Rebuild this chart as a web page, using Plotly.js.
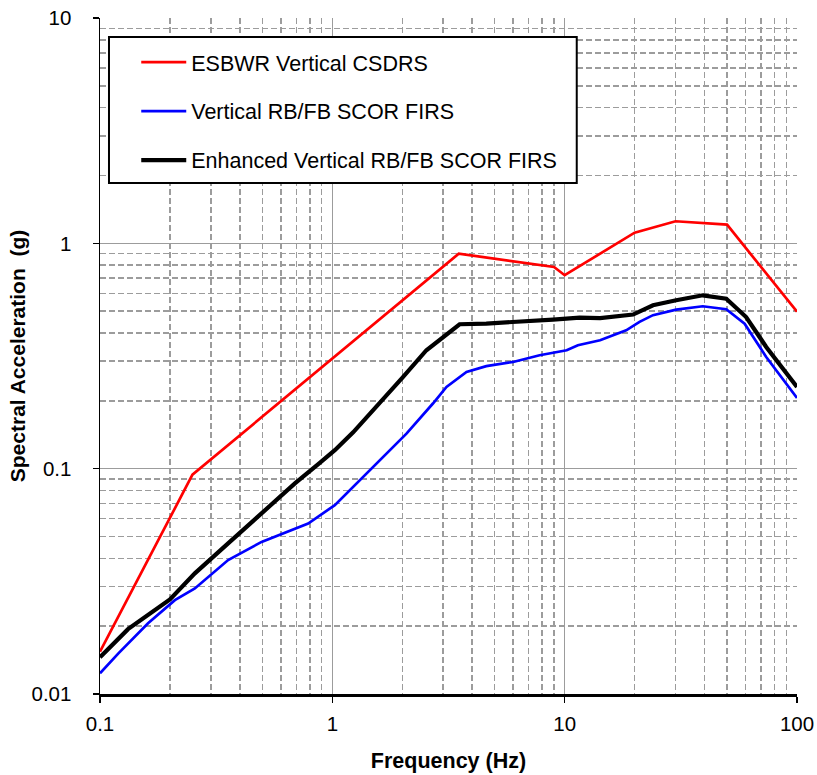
<!DOCTYPE html>
<html>
<head>
<meta charset="utf-8">
<script src="https://cdn.plot.ly/plotly-3.0.1.min.js"></script>
<style>html,body{margin:0;padding:0;background:#fff;}#chart{width:817px;height:775px;}</style>
</head>
<body>
<div id="chart"></div>
<script>
// ESBWR Vertical CSDRS
var freqCSDRS = [0.1, 0.25, 3.5, 9, 10, 20, 30, 50, 100];
var accCSDRS  = [0.0154, 0.094, 0.90, 0.785, 0.722, 1.115, 1.253, 1.21, 0.497];

// Vertical RB/FB SCOR FIRS
var freqFIRS = [0.1, 0.12, 0.161, 0.21, 0.256, 0.356, 0.496, 0.604, 0.787, 1.025, 1.229, 1.6, 2.085, 2.71, 3.1, 3.78, 4.6, 6.0, 7.8, 10.2, 11.4, 14.2, 18.4, 21.0, 24.0, 30.2, 39.3, 49.6, 59.5, 73.7, 100];
var accFIRS  = [0.01235, 0.01515, 0.0206, 0.0261, 0.0294, 0.0393, 0.0473, 0.0511, 0.0571, 0.0689, 0.083, 0.109, 0.143, 0.1946, 0.2306, 0.2686, 0.285, 0.2976, 0.3186, 0.3354, 0.353, 0.3715, 0.411, 0.448, 0.480, 0.508, 0.5256, 0.510, 0.440, 0.313, 0.206];

// Enhanced Vertical RB/FB SCOR FIRS
var freqEnh = [0.1, 0.132, 0.2, 0.256, 0.356, 0.496, 0.69, 0.883, 1.025, 1.229, 1.6, 2.017, 2.54, 2.9, 3.53, 4.6, 6.4, 8.91, 11.6, 14.2, 19.7, 24.0, 30.2, 39.3, 49.6, 60.4, 73.7, 100];
var accEnh  = [0.01455, 0.0194, 0.0263, 0.0343, 0.0466, 0.0633, 0.086, 0.1061, 0.1208, 0.145, 0.1946, 0.2553, 0.3354, 0.3715, 0.4375, 0.4405, 0.448, 0.459, 0.468, 0.466, 0.483, 0.531, 0.559, 0.588, 0.568, 0.471, 0.347, 0.2306];

var seriesNames = ['ESBWR Vertical CSDRS', 'Vertical RB/FB SCOR FIRS', 'Enhanced Vertical RB/FB SCOR FIRS'];

var xTickVals = [0.1, 1, 10, 100];
var xTickText = ['0.1', '1', '10', '100'];
var yTickVals = [0.01, 0.1, 1, 10];
var yTickText = ['0.01', '0.1', '1', '10'];

function minorVals(lo, hi) {
  var v = [];
  for (var d = lo; d < hi; d *= 10) {
    for (var k = 2; k <= 9; k++) v.push(d * k);
  }
  return v;
}

var FONT = 'Arial, "Liberation Sans", sans-serif';

var traces = [
  {x: freqCSDRS, y: accCSDRS, name: seriesNames[0], mode: 'lines', legendgroup: 'a',
   line: {color: '#ff0000', width: 2.7}},
  {x: freqFIRS, y: accFIRS, name: seriesNames[1], mode: 'lines', legendgroup: 'b',
   line: {color: '#0000ff', width: 2.7}},
  {x: freqEnh, y: accEnh, name: seriesNames[2], mode: 'lines', legendgroup: 'c',
   line: {color: '#000000', width: 4.2}}
];

var gridCol = '#9c9c9c';

var layout = {
  width: 817, height: 775,
  margin: {l: 100, r: 20, t: 18, b: 81, pad: 0},
  paper_bgcolor: '#ffffff', plot_bgcolor: '#ffffff',
  font: {family: FONT, color: '#000', size: 20},
  showlegend: true,
  legend: {
    x: 0.052, y: 0.965, xanchor: 'left', yanchor: 'top',
    bgcolor: 'rgba(0,0,0,0)', borderwidth: 0,
    font: {family: FONT, size: 21.5, color: '#000'},
    tracegroupgap: 18, itemwidth: 45
  },
  xaxis: {
    type: 'log', range: [-1, 2],
    tickvals: xTickVals, ticktext: xTickText,
    ticks: 'outside', ticklen: 6, tickwidth: 1.5, tickcolor: '#000',
    ticklabelstandoff: 3,
    showline: true, linecolor: '#000', linewidth: 3,
    showgrid: true, gridcolor: gridCol, gridwidth: 1.5,
    zeroline: false,
    tickfont: {family: FONT, size: 20.5, color: '#000'},
    minor: {tickvals: minorVals(0.1, 100), showgrid: true, gridcolor: gridCol, gridwidth: 1.5,
            griddash: '6px,3px', ticks: ''},
    title: {text: '<b>Frequency (Hz)</b>', font: {family: FONT, size: 21.5, color: '#000'}, standoff: 20}
  },
  yaxis: {
    type: 'log', range: [-2, 1],
    tickvals: yTickVals, ticktext: yTickText,
    ticks: 'outside', ticklen: 6, tickwidth: 1.5, tickcolor: '#000',
    ticklabelstandoff: 17,
    showline: true, linecolor: '#000', linewidth: 1.5,
    showgrid: true, gridcolor: gridCol, gridwidth: 1.5,
    zeroline: false,
    tickfont: {family: FONT, size: 20.5, color: '#000'},
    minor: {tickvals: minorVals(0.01, 10), showgrid: true, gridcolor: gridCol, gridwidth: 1.5,
            griddash: '6px,3px', ticks: ''},
    title: {text: '<b>Spectral Acceleration\u00a0 (g)</b>', font: {family: FONT, size: 21, color: '#000'}, standoff: 0}
  },
  shapes: [
    {type: 'rect', xref: 'paper', yref: 'paper', x0: 0.0129, x1: 0.684, y0: 0.756, y1: 0.972,
     fillcolor: '#ffffff', line: {color: '#000', width: 2}, layer: 'above'}
  ]
};

Plotly.newPlot('chart', traces, layout, {displayModeBar: false, staticPlot: true});
</script>
</body>
</html>
